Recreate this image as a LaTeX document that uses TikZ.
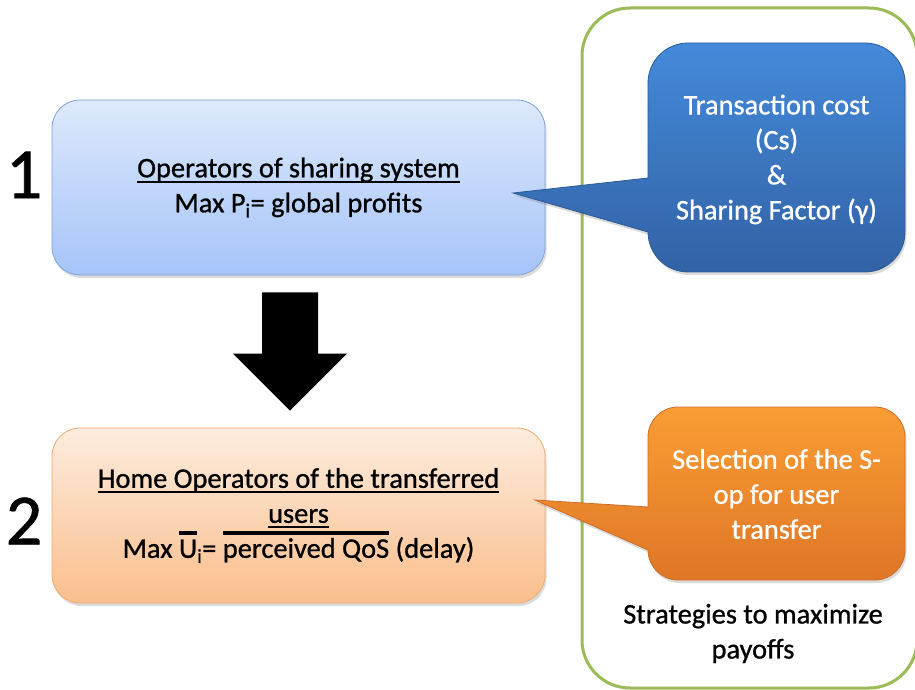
\documentclass[tikz,border=0pt]{standalone}
\usepackage{fontspec}
\setmainfont{Carlito}[FakeBold=0.9]
\usetikzlibrary{shadows,calc}
\definecolor{bAtop}{RGB}{221,233,252}
\definecolor{bAbot}{RGB}{165,196,248}
\definecolor{bAline}{RGB}{128,163,218}
\definecolor{bBtop}{RGB}{253,236,222}
\definecolor{bBbot}{RGB}{250,190,140}
\definecolor{bBline}{RGB}{240,172,115}
\definecolor{cAtop}{RGB}{68,138,218}
\definecolor{cAbot}{RGB}{50,98,165}
\definecolor{cAline}{RGB}{45,90,150}
\definecolor{cBtop}{RGB}{250,157,52}
\definecolor{cBbot}{RGB}{222,118,38}
\definecolor{cBline}{RGB}{205,110,40}
\definecolor{frameg}{RGB}{155,187,89}
\newcommand\ulx[1]{\setbox0\hbox{#1}\rlap{\rule[-0.2em]{\wd0}{0.075em}}\box0\relax}
\newcommand\ovl[1]{\setbox0\hbox{#1}\rlap{\rule[0.82em]{\wd0}{0.13em}}\box0\relax}
\begin{document}
\begin{tikzpicture}[x=1pt,y=1pt,
  txt/.style={font=\fontsize{28.4}{35}\selectfont, align=center},
  box/.style={txt, rectangle, rounded corners=28pt, minimum width=493pt, minimum height=175pt, line width=0.8pt,
    drop shadow={opacity=0.28, shadow xshift=1.5pt, shadow yshift=-3pt}},
  callout/.style={line width=0.8pt, drop shadow={opacity=0.28, shadow xshift=1.5pt, shadow yshift=-3pt}},
  bignum/.style={font=\fontsize{72}{72}\selectfont},
  frame/.style={draw=frameg, line width=3pt, rounded corners=48pt}]
\useasboundingbox (0,0) rectangle (915,689);
\fill[white] (0,0) rectangle (915,689);
\begin{scope}
\clip (0,0) rectangle (915,689);
\path[frame] (582,1) rectangle (917,681);
\end{scope}

% main boxes
\node[box, top color=bAtop, bottom color=bAbot, draw=bAline] (op) at (298.5,501.5)
  {\ulx{Operators of sharing system}\\Max P\textsubscript{i}= global profits};
\node[box, top color=bBtop, bottom color=bBbot, draw=bBline] (home) at (298.5,173.5)
  {\ulx{Home Operators of the transferred}\\\ulx{users}\\Max \ovl{U}\textsubscript{i}= \ovl{perceived QoS} (delay)};

\node[bignum] (n1) at (24,514) {1};
\node[bignum] (n2) at (24,168) {2};

% big arrow
\coordinate (atop) at ($(op.south)+(-8.5,-17)$);
\coordinate (atip) at ($(home.north)+(-8.5,17)$);
\fill[black] ($(atop)+(-28,0)$) -- ($(atop)+(28,0)$) -- ($(atip)+(28,57)$) -- ($(atip)+(57,57)$)
  -- (atip) -- ($(atip)+(-57,57)$) -- ($(atip)+(-28,57)$) -- cycle;

% blue callout
\path[callout, top color=cAtop, bottom color=cAbot, draw=cAline]
  (688,646) -- (865,646) arc[start angle=90,end angle=0,radius=40]
  -- (905,457) arc[start angle=0,end angle=-90,radius=40]
  -- (688,417) arc[start angle=270,end angle=180,radius=40]
  -- (513,496) -- (648,511)
  -- (648,606) arc[start angle=180,end angle=90,radius=40] -- cycle;
\node[txt, text=white] (cs) at (776.5,529.5) {Transaction cost\\(Cs)\\\&\\Sharing Factor (γ)};

% orange callout
\path[callout, top color=cBtop, bottom color=cBbot, draw=cBline]
  (678,282) -- (875,282) arc[start angle=90,end angle=0,radius=30]
  -- (905,139) arc[start angle=0,end angle=-90,radius=30]
  -- (678,109) arc[start angle=270,end angle=180,radius=30]
  -- (535,189) -- (648,182)
  -- (648,252) arc[start angle=180,end angle=90,radius=30] -- cycle;
\node[txt, text=white] (sel) at (776.5,195) {Selection of the S-\\op for user\\transfer};

\node[txt] (strat) at (753,55.5) {Strategies to maximize\\payoffs};
\end{tikzpicture}
\end{document}
